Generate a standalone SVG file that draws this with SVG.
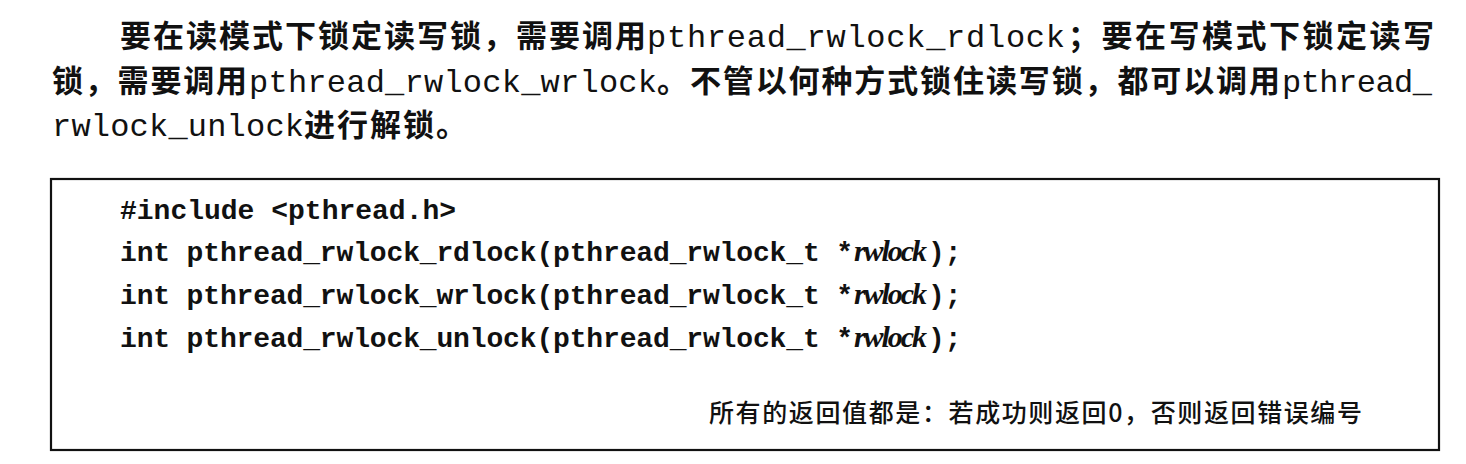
<svg xmlns="http://www.w3.org/2000/svg" width="1466" height="464" viewBox="0 0 1466 464">
<style>
.cjk{font-family:"Noto Sans CJK SC","Noto Sans",sans-serif;font-size:31px;font-weight:700;fill:#111}
.mono{font-family:"Liberation Mono","DejaVu Sans Mono",monospace;font-size:32px;fill:#111}
.code{font-family:"Liberation Mono","DejaVu Sans Mono",monospace;font-size:28px;font-weight:700;fill:#111}
.ital{font-family:"Liberation Serif","DejaVu Serif",serif;font-size:30px;font-style:italic;font-weight:700;fill:#111}
.foot{font-family:"Noto Sans CJK SC","Noto Sans",sans-serif;font-size:25px;font-weight:500;fill:#111}
</style>
<rect width="1466" height="464" fill="#fff"/>
<g id="paragraph">
<text class="cjk" x="120" y="47" textLength="526" lengthAdjust="spacing">要在读模式下锁定读写锁，需要调用</text>
<text class="mono" x="647" y="47" textLength="418" lengthAdjust="spacing">pthread_rwlock_rdlock</text>
<text class="cjk" x="1068" y="47" textLength="366" lengthAdjust="spacing">；要在写模式下锁定读写</text>
<text class="cjk" x="52" y="92" textLength="195" lengthAdjust="spacing">锁，需要调用</text>
<text class="mono" x="249" y="92" textLength="408" lengthAdjust="spacing">pthread_rwlock_wrlock</text>
<text class="cjk" x="657" y="92" textLength="623" lengthAdjust="spacing">。不管以何种方式锁住读写锁，都可以调用</text>
<text class="mono" x="1282" y="92" textLength="150" lengthAdjust="spacing">pthread_</text>
<text class="mono" x="52" y="136" textLength="252" lengthAdjust="spacing">rwlock_unlock</text>
<text class="cjk" x="304" y="136" textLength="163" lengthAdjust="spacing">进行解锁。</text>
</g>
<g id="box">
<rect x="51" y="179" width="1388" height="271" fill="none" stroke="#111" stroke-width="2.2"/>
</g>
<g id="code">
<text class="code" x="120" y="219">#include &lt;pthread.h&gt;</text>
<text class="code" x="120" y="261" textLength="733" lengthAdjust="spacing">int pthread_rwlock_rdlock(pthread_rwlock_t *</text>
<text class="ital" x="854" y="261" textLength="73" lengthAdjust="spacing">rwlock</text>
<text class="code" x="928" y="261">);</text>
<text class="code" x="120" y="304" textLength="733" lengthAdjust="spacing">int pthread_rwlock_wrlock(pthread_rwlock_t *</text>
<text class="ital" x="854" y="304" textLength="73" lengthAdjust="spacing">rwlock</text>
<text class="code" x="928" y="304">);</text>
<text class="code" x="120" y="347" textLength="733" lengthAdjust="spacing">int pthread_rwlock_unlock(pthread_rwlock_t *</text>
<text class="ital" x="854" y="347" textLength="73" lengthAdjust="spacing">rwlock</text>
<text class="code" x="928" y="347">);</text>
</g>
<g id="footer">
<text class="foot" x="709" y="422" textLength="653" lengthAdjust="spacing">所有的返回值都是：若成功则返回0，否则返回错误编号</text>
</g>
</svg>
